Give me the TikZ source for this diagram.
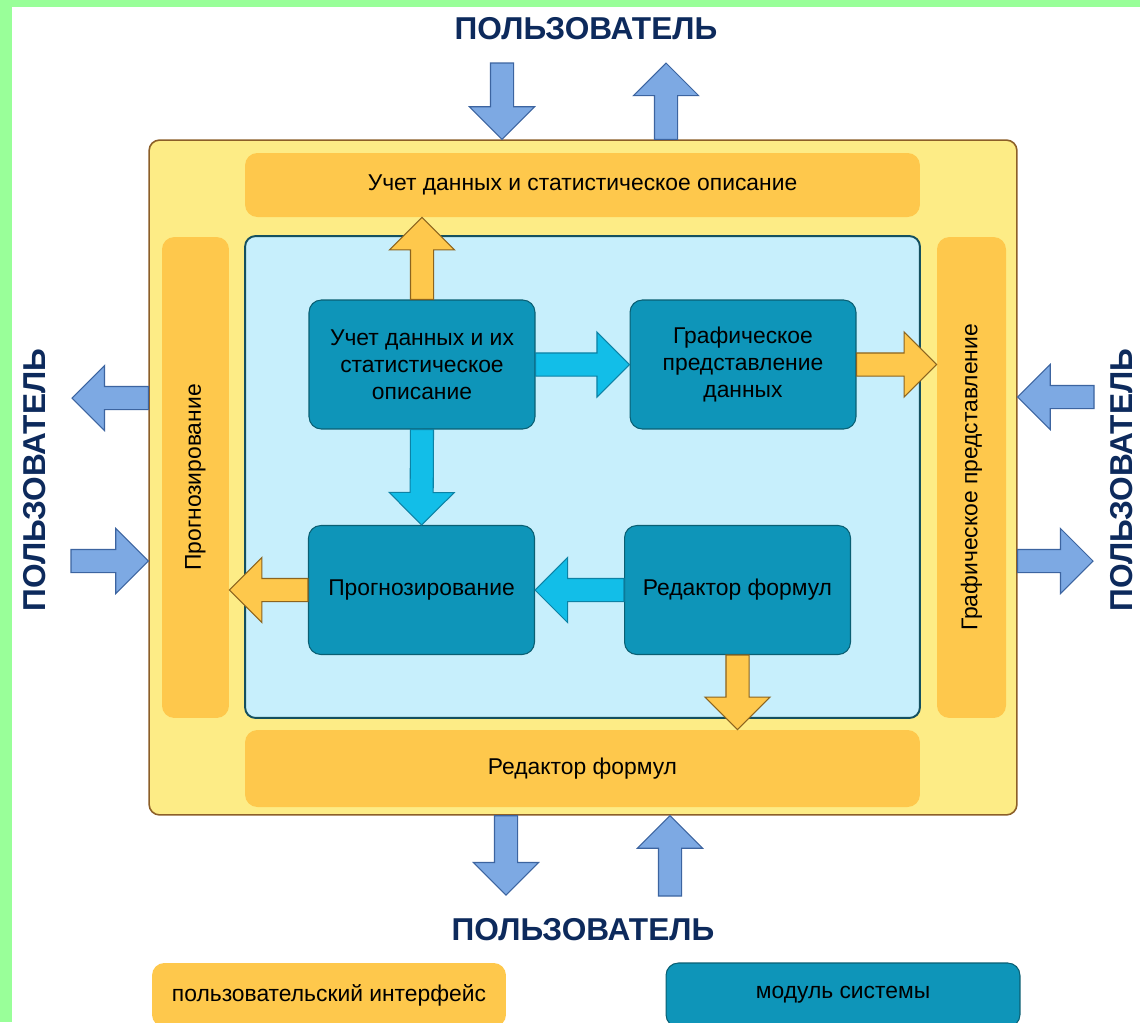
\documentclass[tikz,border=0pt]{standalone}
\usepackage{fontspec}
\setmainfont{Liberation Sans}
\usetikzlibrary{calc,shapes.arrows,positioning}

\definecolor{greenframe}{HTML}{99FF99}
\definecolor{sysyellow}{HTML}{FDEC86}
\definecolor{sysborder}{HTML}{8C5F28}
\definecolor{uiorange}{HTML}{FEC84C}
\definecolor{coreblue}{HTML}{C7EFFC}
\definecolor{coreborder}{HTML}{14505F}
\definecolor{modteal}{HTML}{0E95B9}
\definecolor{modborder}{HTML}{0A5F73}
\definecolor{flowcyan}{HTML}{12BEE8}
\definecolor{flowcyanb}{HTML}{0C82A5}
\definecolor{userblue}{HTML}{7DA9E3}
\definecolor{userblueb}{HTML}{3C64A0}
\definecolor{orarrb}{HTML}{8C641E}
\definecolor{usernavy}{HTML}{0D2A5C}

% block arrow between two points, drawn as a single arrow node
\newcommand{\blockarrow}[3]{%
  \path let \p1=($(#3)-(#2)$), \n1={veclen(\x1,\y1)}, \n2={atan2(\y1,\x1)} in
    node[#1, single arrow, anchor=tail, rotate=\n2, minimum height=\n1] at (#2) {};
}

\tikzset{
  sysbox/.style={fill=sysyellow, draw=sysborder, line width=0.9pt, rounded corners=6pt},
  uibar/.style={fill=uiorange, rounded corners=7pt, inner sep=0pt},
  corebox/.style={fill=coreblue, draw=coreborder, line width=1.1pt, rounded corners=6pt},
  module/.style={fill=modteal, draw=modborder, line width=0.6pt, rounded corners=7pt,
    minimum width=4.52cm, minimum height=2.58cm, align=center, inner sep=0pt},
  flowarr/.style={single arrow head extend=0.42cm, minimum width=1.28cm,
    inner xsep=0pt, inner ysep=0.22cm, outer sep=0pt, line width=0.6pt},
  cyanarr/.style={flowarr, fill=flowcyan, draw=flowcyanb},
  orarr/.style={flowarr, fill=uiorange, draw=orarrb},
  userarr/.style={flowarr, fill=userblue, draw=userblueb},
  usertext/.style={text=usernavy, font=\fontsize{18}{20}\selectfont\bfseries, inner sep=0pt}
}

\begin{document}
\begin{tikzpicture}[x=0.02cm, y=-0.02cm, font=\fontsize{13}{15.4}\selectfont]
  % page and green frame
  \fill[white] (0,0) rectangle (1140,1022);
  \fill[greenframe] (0,0) rectangle (1140,7);
  \fill[greenframe] (0,0) rectangle (12,1022);
  \useasboundingbox (0,0) rectangle (1140,1022);

  % system frame with interface bars
  \node[sysbox, minimum width=17.36cm, minimum height=13.5cm] (sys) at (583,477.5) {};
  \node[uibar, minimum width=13.5cm, minimum height=1.28cm] (topbar) at (582.5,185) {Учет данных и статистическое описание};
  \node[uibar, minimum width=13.5cm, minimum height=1.54cm] (botbar) at (582.5,768.5) {Редактор формул};
  \node[uibar, minimum width=1.34cm, minimum height=9.62cm,
    label={[rotate=90]center:Прогнозирование}] (lbar) at (195.5,477.5) {};
  \node[uibar, minimum width=1.38cm, minimum height=9.62cm,
    label={[rotate=90]center:Графическое представление}] (rbar) at (971.5,477.5) {};
  \node[corebox, minimum width=13.5cm, minimum height=9.64cm] (core) at (582.5,477) {};

  % modules
  \node[module] (m1) at (422,364.5) {Учет данных и их\\статистическое\\описание};
  \node[module] (m2) at (743,364.5) {Графическое\\представление\\данных};
  \node[module] (m3) at (421.5,590) {Прогнозирование};
  \node[module] (m4) at (737.5,590) {Редактор формул};

  % flows between modules
  \blockarrow{cyanarr}{m1.east}{m2.west}
  \blockarrow{cyanarr}{m1.south}{m3.north}
  \blockarrow{cyanarr}{m4.west}{m3.east}

  % flows to the interface
  \blockarrow{orarr}{m1.north}{topbar.south -| m1.north}
  \blockarrow{orarr}{m2.east}{rbar.west |- m2.east}
  \blockarrow{orarr}{m3.west}{lbar.east |- m3.west}
  \blockarrow{orarr}{m4.south}{botbar.north -| m4.south}

  % user side
  \node[usertext] (utop) at (586,29) {ПОЛЬЗОВАТЕЛЬ};
  \node[usertext] (ubot) at (583,930) {ПОЛЬЗОВАТЕЛЬ};
  \node[usertext, rotate=90] (uleft) at (35,480) {ПОЛЬЗОВАТЕЛЬ};
  \node[usertext, rotate=90] (uright) at (1122,480) {ПОЛЬЗОВАТЕЛЬ};

  \coordinate (tin) at (502,63);
  \coordinate (tout) at (666,63);
  \coordinate (lout) at (72,398);
  \coordinate (lin) at (71,561);
  \coordinate (rin) at (1094,397);
  \coordinate (rout) at (1093,561);
  \coordinate (bout) at (506,895);
  \coordinate (bin) at (670,896);

  \blockarrow{userarr}{tin}{tin |- sys.north}
  \blockarrow{userarr}{sys.north -| tout}{tout}
  \blockarrow{userarr}{sys.west |- lout}{lout}
  \blockarrow{userarr}{lin}{lin -| sys.west}
  \blockarrow{userarr}{rin}{rin -| sys.east}
  \blockarrow{userarr}{sys.east |- rout}{rout}
  \blockarrow{userarr}{sys.south -| bout}{bout}
  \blockarrow{userarr}{bin}{bin |- sys.south}

  % legend
  \node[uibar, minimum width=7.08cm, minimum height=1.28cm] (legui) at (329,995) {пользовательский интерфейс};
  \node[module, minimum width=7.08cm, minimum height=1.28cm] (legmod) at (843,995) {модуль системы};
\end{tikzpicture}
\end{document}
